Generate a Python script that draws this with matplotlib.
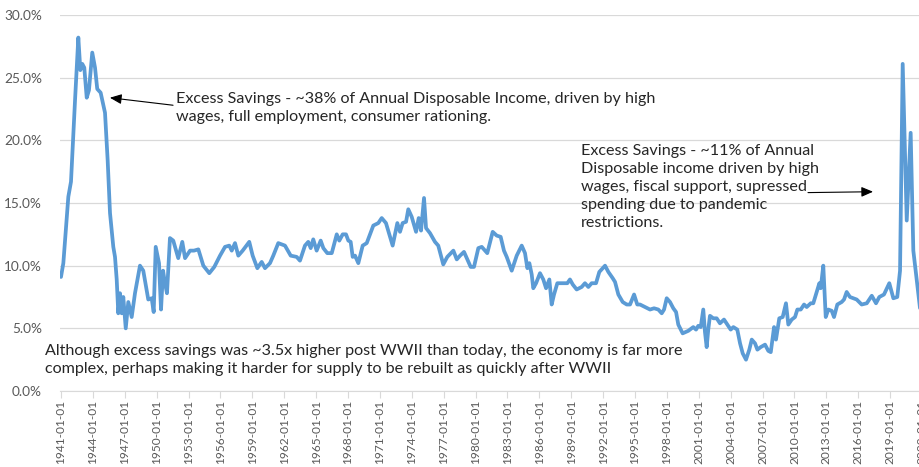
import matplotlib
matplotlib.use('Agg')
import matplotlib.pyplot as plt

#===============
#  Personal saving rate, 1941 - 2021
#===============
years = [1941.00, 1941.22, 1941.69, 1941.94, 1942.32, 1942.63, 1942.82, 1943.00,
         1943.19, 1943.42, 1943.63, 1943.94, 1944.20, 1944.41, 1944.73, 1945.14,
         1945.39, 1945.61, 1945.92, 1946.08, 1946.24, 1946.39, 1946.55, 1946.71,
         1946.86, 1947.09, 1947.33, 1947.65, 1947.96, 1948.43, 1948.74, 1949.21,
         1949.53, 1949.72, 1949.91, 1950.22, 1950.41, 1950.60, 1950.78, 1950.97,
         1951.25, 1951.56, 1952.03, 1952.41, 1952.67, 1953.14, 1953.51, 1953.92,
         1954.39, 1954.95, 1955.42, 1955.96, 1956.43, 1956.83, 1957.06, 1957.37,
         1957.68, 1958.09, 1958.71, 1959.03, 1959.47, 1959.88, 1960.19, 1960.66,
         1960.97, 1961.44, 1962.07, 1962.61, 1963.17, 1963.48, 1963.95, 1964.26,
         1964.49, 1964.73, 1965.05, 1965.43, 1965.68, 1966.05, 1966.47, 1966.94,
         1967.18, 1967.50, 1967.81, 1968.03, 1968.25, 1968.44, 1968.66, 1968.97,
         1969.38, 1969.76, 1970.38, 1970.85, 1971.17, 1971.57, 1972.20, 1972.64,
         1972.89, 1973.14, 1973.46, 1973.67, 1973.99, 1974.40, 1974.65, 1974.87,
         1975.15, 1975.34, 1975.71, 1976.18, 1976.49, 1976.96, 1977.34, 1977.91,
         1978.23, 1978.54, 1978.91, 1979.17, 1979.54, 1979.85, 1980.26, 1980.58,
         1980.89, 1981.10, 1981.61, 1981.99, 1982.36, 1982.67, 1982.93, 1983.40,
         1983.87, 1984.34, 1984.65, 1984.87, 1985.06, 1985.28, 1985.43, 1985.69,
         1986.06, 1986.37, 1986.63, 1986.94, 1987.16, 1987.38, 1987.69, 1988.20,
         1988.63, 1988.88, 1989.14, 1989.51, 1989.98, 1990.29, 1990.61, 1990.92,
         1991.33, 1991.64, 1992.18, 1992.49, 1992.90, 1993.12, 1993.43, 1993.84,
         1994.22, 1994.53, 1994.91, 1995.21, 1995.47, 1995.94, 1996.41, 1996.79,
         1997.19, 1997.51, 1997.73, 1997.98, 1998.29, 1998.60, 1998.86, 1999.07,
         1999.48, 2000.01, 2000.48, 2000.74, 2000.95, 2001.18, 2001.42, 2001.58,
         2001.74, 2001.89, 2002.05, 2002.36, 2002.68, 2002.99, 2003.37, 2003.68,
         2004.00, 2004.25, 2004.62, 2004.88, 2005.13, 2005.44, 2005.75, 2005.98,
         2006.29, 2006.51, 2006.82, 2007.23, 2007.54, 2007.77, 2008.08, 2008.26,
         2008.57, 2008.89, 2009.20, 2009.42, 2009.74, 2010.05, 2010.27, 2010.59,
         2010.90, 2011.15, 2011.53, 2011.77, 2012.09, 2012.34, 2012.47, 2012.71,
         2012.94, 2013.18, 2013.50, 2013.72, 2014.03, 2014.44, 2014.66, 2014.91,
         2015.22, 2015.53, 2015.85, 2016.32, 2016.80, 2017.27, 2017.67, 2017.98,
         2018.42, 2018.92, 2019.30, 2019.67, 2019.93, 2020.18, 2020.56, 2020.93,
         2021.18, 2021.81]

saving_rate = [9.1, 10.2, 15.5, 16.7, 23.2, 28.2, 25.6, 26.1,
               25.8, 23.4, 24.0, 27.0, 25.8, 24.1, 23.8, 22.2,
               18.4, 14.2, 11.5, 10.7, 8.9, 6.2, 7.8, 6.2,
               7.5, 5.0, 7.1, 5.9, 7.8, 10.0, 9.6, 7.3,
               7.4, 6.3, 11.5, 10.2, 6.5, 9.6, 8.6, 7.8,
               12.2, 12.0, 10.6, 11.9, 10.6, 11.2, 11.2, 11.3,
               10.0, 9.4, 9.9, 10.8, 11.5, 11.6, 11.2, 11.8,
               10.8, 11.2, 11.9, 10.8, 9.8, 10.3, 9.8, 10.2,
               10.8, 11.8, 11.6, 10.8, 10.7, 10.4, 11.6, 11.9,
               11.4, 12.1, 11.2, 12.0, 11.4, 11.0, 11.0, 12.5,
               12.0, 12.5, 12.5, 12.0, 11.9, 10.7, 10.8, 10.2,
               11.6, 11.8, 13.2, 13.4, 13.8, 13.4, 11.6, 13.4,
               12.7, 13.4, 13.5, 14.5, 13.9, 12.7, 13.8, 12.8,
               15.4, 13.0, 12.6, 11.9, 11.6, 10.1, 10.7, 11.2,
               10.5, 10.8, 11.1, 10.6, 9.9, 9.9, 11.4, 11.5,
               11.2, 11.0, 12.7, 12.4, 12.3, 11.2, 10.7, 9.6,
               10.8, 11.6, 11.0, 9.8, 10.2, 9.3, 8.2, 8.6,
               9.4, 8.9, 8.2, 8.9, 6.9, 7.7, 8.6, 8.6,
               8.6, 8.9, 8.5, 8.1, 8.3, 8.6, 8.3, 8.6,
               8.6, 9.5, 10.0, 9.5, 9.0, 8.7, 7.7, 7.1,
               6.9, 6.9, 7.7, 6.9, 6.9, 6.7, 6.5, 6.6,
               6.5, 6.2, 6.5, 7.4, 7.1, 6.6, 6.3, 5.3,
               4.6, 4.8, 5.1, 4.9, 5.2, 5.1, 6.5, 4.7,
               3.5, 4.9, 6.0, 5.8, 5.8, 5.4, 5.7, 5.3,
               4.9, 5.1, 4.9, 3.8, 3.0, 2.5, 3.3, 4.1,
               3.8, 3.3, 3.5, 3.7, 3.2, 3.1, 5.1, 4.1,
               5.8, 5.9, 7.0, 5.3, 5.7, 5.9, 6.5, 6.5,
               6.9, 6.7, 7.0, 7.0, 7.9, 8.6, 8.2, 10.0,
               5.9, 6.5, 6.4, 5.9, 6.9, 7.1, 7.3, 7.9,
               7.5, 7.4, 7.3, 6.9, 7.0, 7.6, 7.0, 7.5,
               7.7, 8.6, 7.4, 7.5, 9.6, 26.1, 13.6, 20.6,
               11.2, 6.6]

tick_years = list(range(1941, 2023, 3))
tick_labels = [f'{y}-01-01' for y in tick_years]
y_ticks = [0, 5, 10, 15, 20, 25, 30]

note_wwii = ('Excess Savings - ~38% of Annual Disposable Income, driven by high\n'
             'wages, full employment, consumer rationing.')
note_covid = ('Excess Savings - ~11% of Annual\n'
              'Disposable income driven by high\n'
              'wages, fiscal support, supressed\n'
              'spending due to pandemic\n'
              'restrictions.')
note_bottom = ('Although excess savings was ~3.5x higher post WWII than today, the economy is far more\n'
               'complex, perhaps making it harder for supply to be rebuilt as quickly after WWII')

plt.rcParams['font.family'] = ['Lato', 'DejaVu Sans']

#===============
#  Figure and axes
#===============
fig = plt.figure(figsize=(9.2, 4.67), dpi=100)
# the axes run past the right edge, so the last tick label gets cut
ax = fig.add_axes([60 / 920, 76 / 467, 890 / 920, 376 / 467])

ax.plot(years, saving_rate, color='#5B9BD5', lw=2.7,
        solid_joinstyle='round', solid_capstyle='round')

ax.set_xlim(1940.906, 2024.63)
ax.set_ylim(0, 30)

ax.set_yticks(y_ticks)
ax.set_yticklabels([f'{v:.1f}%' for v in y_ticks])
ax.set_xticks(tick_years)
ax.set_xticklabels(tick_labels, rotation=90)

ax.grid(axis='y', color='#D9D9D9', lw=0.9)
ax.set_axisbelow(True)
for s in ['top', 'right', 'left']:
    ax.spines[s].set_visible(False)
ax.spines['bottom'].set_color('#D9D9D9')
ax.tick_params(axis='y', length=0, pad=13, labelsize=9.8, labelcolor='#595959')
ax.tick_params(axis='x', length=5, color='#D9D9D9', pad=1.5, labelsize=8.6,
               labelcolor='#595959')

#===============
#  Notes and arrows
#===============
text_kw = dict(fontsize=11.6, color='#262626', ha='left', va='center', linespacing=1.37)

ax.text(1951.82, 22.6, note_wwii, **text_kw)
ax.annotate('', xy=(1945.6, 23.4), xytext=(1951.54, 22.8),
            arrowprops=dict(arrowstyle='-|>,head_length=0.7,head_width=0.3',
                            color='black', lw=0.8, shrinkA=0, shrinkB=0))

ax.text(1989.92, 16.27, note_covid, **text_kw)
ax.annotate('', xy=(2017.39, 15.9), xytext=(2011.27, 15.83),
            arrowprops=dict(arrowstyle='-|>,head_length=0.7,head_width=0.3',
                            color='black', lw=0.8, shrinkA=0, shrinkB=0))

ax.text(1939.5, 2.51, note_bottom, **text_kw)

fig.savefig('out.png', dpi=100)
